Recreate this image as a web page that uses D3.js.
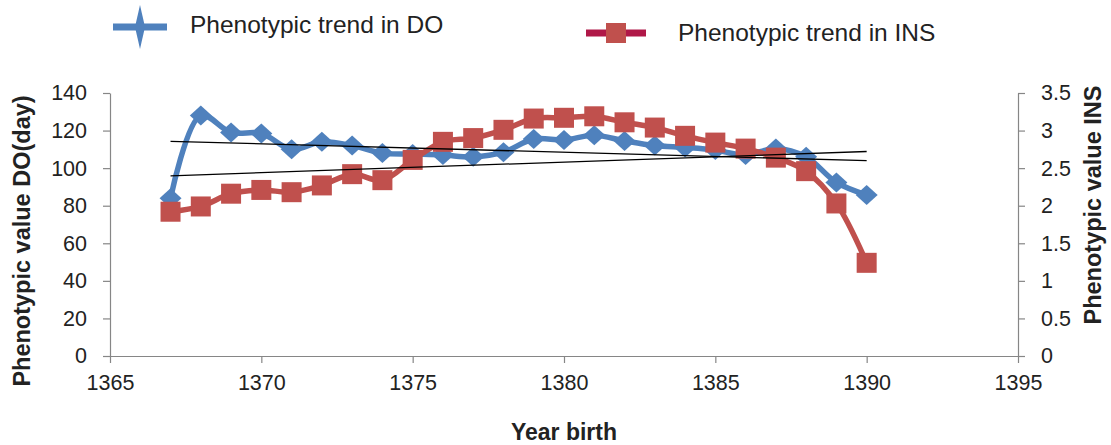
<!DOCTYPE html>
<html><head><meta charset="utf-8">
<script src="https://cdn.jsdelivr.net/npm/d3@7"></script>
<style>
html,body{margin:0;padding:0;background:#fff;}
svg{display:block;font-family:"Carlito","Calibri","Liberation Sans",Arial,sans-serif;}
</style></head>
<body><svg id="c" width="1111" height="445"></svg>
<script>
const years = [1367,1368,1369,1370,1371,1372,1373,1374,1375,1376,1377,1378,1379,1380,1381,1382,1383,1384,1385,1386,1387,1388,1389,1390];
const doValues = [84,128,119,118.5,110,114,112,108,107.5,107,106,108.5,115.5,115,117.5,114.5,112,111,109.6,107,110.5,106,92.4,85.7];
const insValues = [1.92,1.99,2.16,2.21,2.18,2.27,2.42,2.34,2.61,2.85,2.90,3.01,3.16,3.17,3.19,3.11,3.04,2.93,2.84,2.76,2.64,2.46,2.03,1.24];
const xTicks = [1365,1370,1375,1380,1385,1390,1395];
const leftTicks = [0,20,40,60,80,100,120,140];
const rightTicks = [0,0.5,1,1.5,2,2.5,3,3.5];
const legendLabels = ["Phenotypic trend in DO","Phenotypic trend in INS"];
const axisTitles = {x:"Year birth", left:"Phenotypic value DO(day)", right:"Phenotypic value INS"};

const blue = "#4F81BD", red = "#C0504D", axisCol = "#868686";
const svg = d3.select("#c");
const L = 110, R = 1018, T = 93, B = 356;
const x = d3.scaleLinear().domain([1365,1395]).range([L,R]);
const yL = d3.scaleLinear().domain([0,140]).range([B,T]);
const yR = d3.scaleLinear().domain([0,3.5]).range([B,T]);

function styleAxis(g){
  g.selectAll("path,line").attr("stroke",axisCol).attr("stroke-width",1.2);
  g.selectAll("text").attr("fill","#222").attr("font-size",21.5)
   .attr("font-family",'"Liberation Sans",Arial,sans-serif');
}
const gx = svg.append("g").attr("transform",`translate(0,${B})`)
  .call(d3.axisBottom(x).tickValues(xTicks).tickFormat(d3.format("d")).tickSizeInner(7).tickSizeOuter(0).tickPadding(12));
styleAxis(gx);
const gl = svg.append("g").attr("transform",`translate(${L},0)`)
  .call(d3.axisLeft(yL).tickValues(leftTicks).tickSizeInner(7).tickSizeOuter(0).tickPadding(16));
styleAxis(gl);
const gr = svg.append("g").attr("transform",`translate(${R},0)`)
  .call(d3.axisRight(yR).tickValues(rightTicks).tickFormat(d=>String(d)).tickSizeInner(7).tickSizeOuter(0).tickPadding(16));
styleAxis(gr);

// series
const doData = years.map((y,i)=>({x:y,v:doValues[i]}));
const insData = years.map((y,i)=>({x:y,v:insValues[i]}));
const lineDO = d3.line().x(d=>x(d.x)).y(d=>yL(d.v)).curve(d3.curveCatmullRom.alpha(0.5));
const lineINS = d3.line().x(d=>x(d.x)).y(d=>yR(d.v)).curve(d3.curveCatmullRom.alpha(0.5));

svg.append("path").datum(doData).attr("d",lineDO).attr("fill","none").attr("stroke",blue).attr("stroke-width",5.5).attr("stroke-linejoin","round");
svg.append("g").selectAll("path").data(doData).join("path")
  .attr("transform",d=>`translate(${x(d.x)},${yL(d.v)})`)
  .attr("d","M0,-10L11,0L0,10L-11,0Z").attr("fill",blue);

svg.append("path").datum(insData).attr("d",lineINS).attr("fill","none").attr("stroke",red).attr("stroke-width",5.5).attr("stroke-linejoin","round");
svg.append("g").selectAll("rect").data(insData).join("rect")
  .attr("x",d=>x(d.x)-10).attr("y",d=>yR(d.v)-10).attr("width",20).attr("height",20).attr("fill",red);

// linear trendlines (least squares)
function fit(xs,ys){
  const n=xs.length, mx=d3.mean(xs), my=d3.mean(ys);
  let sxy=0,sxx=0; xs.forEach((v,i)=>{sxy+=(v-mx)*(ys[i]-my); sxx+=(v-mx)*(v-mx);});
  const b=sxy/sxx; return t=>my+b*(t-mx);
}
const fDO = fit(years,doValues), fINS = fit(years,insValues);
const x0 = years[0], x1 = years[years.length-1];
svg.append("line").attr("x1",x(x0)).attr("x2",x(x1)).attr("y1",yL(fDO(x0))).attr("y2",yL(fDO(x1))).attr("stroke","#000").attr("stroke-width",1.3);
svg.append("line").attr("x1",x(x0)).attr("x2",x(x1)).attr("y1",yR(fINS(x0))).attr("y2",yR(fINS(x1))).attr("stroke","#000").attr("stroke-width",1.3);

// axis titles
const tf = '"Liberation Sans",Arial,sans-serif';
svg.append("text").attr("x",564).attr("y",440).attr("text-anchor","middle").attr("font-family",tf).attr("font-weight","bold").attr("font-size",23).attr("fill","#222").text(axisTitles.x);
svg.append("text").attr("transform","translate(30,241) rotate(-90)").attr("text-anchor","middle").attr("font-family",tf).attr("font-weight","bold").attr("font-size",23.5).attr("fill","#222").text(axisTitles.left);
svg.append("text").attr("transform","translate(1101,205) rotate(-90)").attr("text-anchor","middle").attr("font-family",tf).attr("font-weight","bold").attr("font-size",23.5).attr("fill","#222").text(axisTitles.right);

// legend
const lg = svg.append("g");
lg.append("line").attr("x1",113).attr("x2",167).attr("y1",27).attr("y2",27).attr("stroke",blue).attr("stroke-width",7);
lg.append("path").attr("transform","translate(140,27)").attr("d","M0,-22L5,0L0,22L-5,0Z").attr("fill",blue);
lg.append("text").attr("x",190).attr("y",33).attr("font-family",tf).attr("font-size",24.5).attr("fill","#222").text(legendLabels[0]);
lg.append("line").attr("x1",586).attr("x2",646).attr("y1",33).attr("y2",33).attr("stroke","#B01848").attr("stroke-width",7);
lg.append("rect").attr("x",606).attr("y",23).attr("width",20).attr("height",20).attr("fill",red);
lg.append("text").attr("x",678).attr("y",41).attr("font-family",tf).attr("font-size",24.5).attr("fill","#222").text(legendLabels[1]);
</script></body></html>
